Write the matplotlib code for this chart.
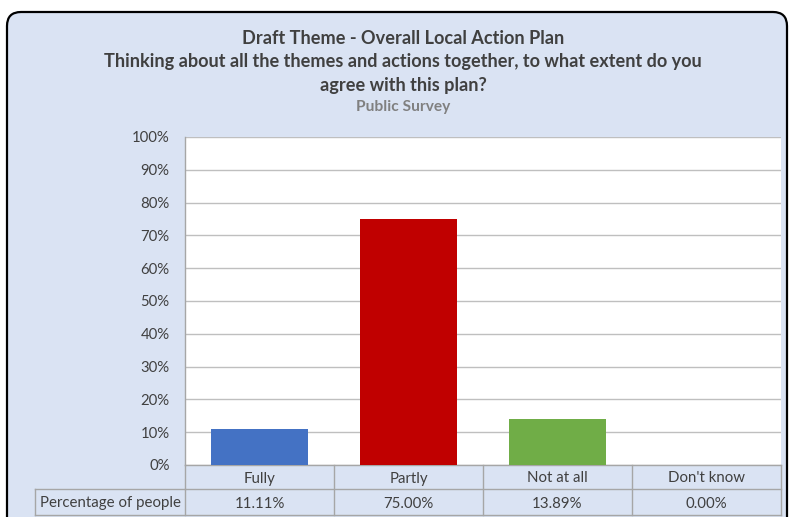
import matplotlib
matplotlib.use("Agg")
import matplotlib.pyplot as plt
from matplotlib.patches import FancyBboxPatch
import matplotlib.transforms as mtransforms

plt.rcParams['font.family'] = ['Lato', 'DejaVu Sans']

categories = ["Fully", "Partly", "Not at all", "Don't know"]
values = [11.11, 75.00, 13.89, 0.00]
bar_colors = ["#4472C4", "#C00000", "#70AD47", "#A5A5A5"]
row_header = "Percentage of people"
yticks = list(range(0, 101, 10))

title_lines = [
    "Draft Theme - Overall Local Action Plan",
    "Thinking about all the themes and actions together, to what extent do you",
    "agree with this plan?",
]
subtitle = "Public Survey"

W, H = 790, 517
fig = plt.figure(figsize=(W / 100, H / 100), dpi=100)
fig.patch.set_facecolor("white")

# background layer in pixel units
bg = fig.add_axes([0, 0, 1, 1])
bg.set_xlim(0, W)
bg.set_ylim(H, 0)
bg.axis("off")
frame = FancyBboxPatch((7, 12), 780, 520, boxstyle="round,pad=0,rounding_size=14",
                       facecolor="#DAE3F3", edgecolor="black", linewidth=1.6)
bg.add_patch(frame)

title_color = "#404040"
tfs = 13.1
bg.text(403, 38.5, title_lines[0], ha="center", va="center", fontsize=tfs, fontweight="bold", color=title_color)
bg.text(403, 61.5, title_lines[1], ha="center", va="center", fontsize=tfs, fontweight="bold", color=title_color)
bg.text(403, 85.5, title_lines[2], ha="center", va="center", fontsize=tfs, fontweight="bold", color=title_color)
bg.text(403, 107.5, subtitle, ha="center", va="center", fontsize=11.2, fontweight="bold", color="#808080")

# chart area
left, right, top, bottom = 185, 781, 137, 465
ax = fig.add_axes([left / W, (H - bottom) / H, (right - left) / W, (bottom - top) / H])
ax.set_facecolor("white")
x = list(range(len(categories)))
ax.bar(x, values, width=0.645, color=bar_colors, zorder=3)
ax.set_xlim(-0.5, len(categories) - 0.5)
ax.set_ylim(0, 100)
ax.set_yticks(yticks)
ax.set_yticklabels([f"{v}%" for v in yticks], fontsize=10.7, color="#404040")
ax.tick_params(axis="y", length=0, pad=11)
ax.set_xticks([])
ax.yaxis.grid(True, color="#BFBFBF", linewidth=1, zorder=0)
for side in ["top", "right", "bottom"]:
    ax.spines[side].set_visible(False)
ax.spines["left"].set_color("#A6A6A6")
ax.spines["left"].set_linewidth(1)

# data table under the chart
tr = mtransforms.blended_transform_factory(ax.transData, ax.transAxes)
plot_h = bottom - top
r1 = -24 / plot_h
r2 = -50 / plot_h
px_per_unit = (right - left) / len(categories)
hdr_x = -0.5 - 150 / px_per_unit
line_kw = dict(color="#A6A6A6", linewidth=1, transform=tr, clip_on=False)
xmin, xmax = -0.5, len(categories) - 0.5
ax.plot([xmin, xmax], [0, 0], **line_kw)
ax.plot([xmin, xmax], [r1, r1], **line_kw)
ax.plot([hdr_x, xmin], [r1, r1], **line_kw)
ax.plot([hdr_x, xmax], [r2, r2], **line_kw)
ax.plot([hdr_x, hdr_x], [r1, r2], **line_kw)
for i in range(len(categories) + 1):
    ax.plot([i - 0.5, i - 0.5], [0, r2], **line_kw)
tbl_fs = 10.8
y_cat = (r1 - 3 / plot_h) / 2
y_val = (r1 + r2) / 2 - 1.5 / plot_h
for i, (c, v) in enumerate(zip(categories, values)):
    ax.text(i, y_cat, c, ha="center", va="center", fontsize=tbl_fs, color="#404040",
            transform=tr, clip_on=False)
    ax.text(i, y_val, f"{v:.2f}%", ha="center", va="center", fontsize=tbl_fs,
            color="#404040", transform=tr, clip_on=False)
ax.text((hdr_x + xmin) / 2, y_val, row_header, ha="center", va="center",
        fontsize=tbl_fs, color="#404040", transform=tr, clip_on=False)

fig.savefig("out.png", dpi=100)
